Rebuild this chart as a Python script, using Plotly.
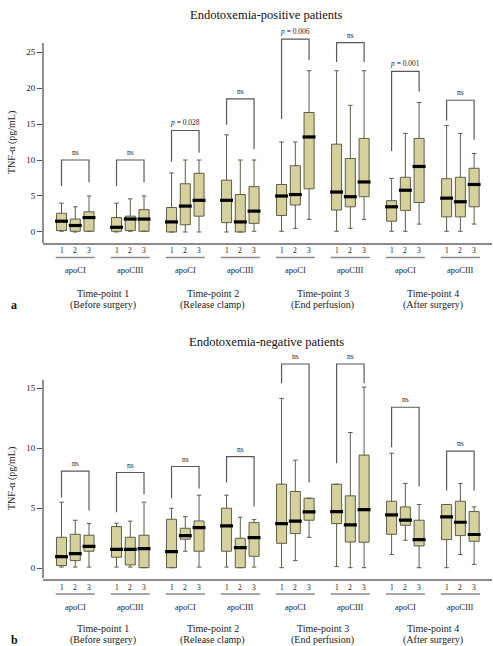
import plotly.graph_objects as go

W, H = 493, 646

# ---------------- data ----------------
timepoints = ["Time-point 1", "Time-point 2", "Time-point 3", "Time-point 4"]
tp_sub = ["(Before surgery)", "(Release clamp)", "(End perfusion)", "(After surgery)"]
apos = ["apoCI", "apoCIII"]
levels = ["1", "2", "3"]

# Endotoxemia-positive (8 groups x 3 boxes, order: TP1 apoCI, TP1 apoCIII, TP2 apoCI, ...)
pos_q1 = [[0.2, 0.1, 0.1], [0.1, 0.2, 0.1], [0.0, 1.0, 2.2], [1.3, 0.0, 1.2],
          [2.3, 3.75, 6.0], [3.05, 3.5, 4.9], [1.5, 3.0, 4.1], [2.1, 2.1, 3.5]]
pos_med = [[1.5, 0.9, 2.0], [0.65, 1.8, 1.8], [1.4, 3.6, 4.4], [4.4, 1.4, 2.9],
           [5.0, 5.2, 13.2], [5.55, 4.9, 6.95], [3.5, 5.8, 9.1], [4.7, 4.2, 6.6]]
pos_q3 = [[2.6, 1.8, 2.8], [2.0, 2.2, 3.1], [3.4, 6.7, 8.15], [7.2, 5.2, 6.3],
          [6.6, 9.2, 16.6], [12.2, 10.2, 13.0], [4.35, 7.6, 13.0], [7.4, 7.6, 8.85]]
pos_lo = [[0.1, 0.0, 0.1], [0.0, 0.1, 0.1], [0.0, 0.0, 0.0], [0.0, 0.0, 0.1],
          [0.1, 0.5, 1.75], [0.1, 0.5, 1.75], [0.1, 0.1, 1.1], [0.1, 0.1, 1.1]]
pos_hi = [[4.0, 3.5, 5.0], [4.0, 4.6, 5.0], [8.2, 10.0, 10.0], [13.5, 10.0, 10.0],
          [12.5, 12.5, 22.4], [22.4, 17.6, 22.4], [7.45, 13.7, 18.0], [14.8, 13.7, 10.9]]
pos_br_top = [10.0, 10.0, 14.1, 18.5, 26.8, 26.3, 22.3, 18.3]
pos_br_left = [6.4, 6.4, 9.8, 14.9, 15.7, 23.6, 11.25, 15.5]
pos_br_right = [6.9, 6.9, 11.0, 11.5, 23.9, 23.6, 19.5, 12.8]
pos_br_label = ["ns", "ns", "<i>p</i> = 0.028", "ns", "<i>p</i> = 0.006", "ns", "<i>p</i> = 0.001", "ns"]

# Endotoxemia-negative
neg_q1 = [[0.22, 0.64, 1.42], [0.92, 0.28, 0.05], [0.05, 2.42, 1.42], [1.42, 0.05, 1.0],
          [2.08, 2.89, 4.0], [3.72, 2.19, 2.17], [2.83, 3.58, 1.86], [2.39, 2.72, 2.25]]
neg_med = [[0.97, 1.22, 1.83], [1.58, 1.58, 1.64], [1.39, 2.72, 3.39], [3.53, 1.72, 2.56],
           [3.72, 3.92, 4.69], [4.72, 3.61, 4.89], [4.44, 4.0, 2.39], [4.28, 3.83, 2.81]]
neg_q3 = [[2.58, 2.83, 2.75], [3.47, 2.58, 2.75], [4.08, 3.33, 3.94], [5.0, 2.5, 3.8],
          [7.0, 6.39, 5.83], [7.0, 6.03, 9.42], [5.58, 5.11, 4.0], [5.31, 5.58, 4.72]]
neg_lo = [[0.1, 0.1, 0.1], [0.1, 0.1, 0.05], [0.05, 1.42, 0.1], [0.1, 0.05, 0.1],
          [0.05, 0.64, 2.58], [0.14, 0.05, 0.05], [1.14, 2.33, 0.05], [0.05, 1.14, 0.33]]
neg_hi = [[5.5, 4.0, 3.72], [3.75, 3.92, 5.5], [5.0, 4.3, 6.08], [6.08, 4.25, 4.05],
          [14.14, 9.0, 5.83], [7.0, 11.3, 15.08], [9.58, 7.06, 5.31], [5.31, 7.06, 5.11]]
neg_br_top = [8.08, 7.97, 8.47, 9.3, 17.0, 17.0, 13.4, 9.75]
neg_br_left = [5.9, 4.67, 5.8, 7.14, 15.4, 8.75, 10.08, 6.47]
neg_br_right = [4.8, 6.17, 6.64, 5.14, 7.14, 15.4, 6.8, 6.47]
neg_br_label = ["ns"] * 8

pos_yticks = [0, 5, 10, 15, 20, 25]
neg_yticks = [0, 5, 10, 15]

# ---------------- style ----------------
FONT = "Liberation Serif, Times New Roman, DejaVu Serif, serif"
FILL = "#d5d09c"
EDGE = "#5e5d48"
BRK = "#595959"
BOXW = 0.73
GSTEP = 4


def py(px):  # pixel row -> paper y
    return 1 - px / H


def px_(x):
    return x / W


def xpos(g, j):
    return g * GSTEP + j


fig = go.Figure()
annotations = []
shapes = []

panels = [
    dict(q1=pos_q1, med=pos_med, q3=pos_q3, lo=pos_lo, hi=pos_hi, bt=pos_br_top, bl=pos_br_left,
         brr=pos_br_right, lab=pos_br_label, xa="x", ya="y", yrange=[-1.53, 28.06],
         dom=[py(243), py(30)], axis_top=26.25, ticks=pos_yticks,
         title="Endotoxemia-positive patients", title_y=15, num_y=250, ul_y=257.5, apo_y=270,
         tp_y=293, sub_y=305, letter="a", ytitle_y=143),
    dict(q1=neg_q1, med=neg_med, q3=neg_q3, lo=neg_lo, hi=neg_hi, bt=neg_br_top, bl=neg_br_left,
         brr=neg_br_right, lab=neg_br_label, xa="x2", ya="y2", yrange=[-0.85, 18.0],
         dom=[py(578.5), py(352)], axis_top=15.7, ticks=neg_yticks,
         title="Endotoxemia-negative patients", title_y=342, num_y=587.5, ul_y=594, apo_y=606.5,
         tp_y=628, sub_y=640, letter="b", ytitle_y=479),
]

TXT = "#222"

for P in panels:
    xs, q1, med, q3, lo, hi = [], [], [], [], [], []
    for g in range(8):
        for j in range(3):
            xs.append(xpos(g, j))
            q1.append(P["q1"][g][j]); med.append(P["med"][g][j]); q3.append(P["q3"][g][j])
            lo.append(P["lo"][g][j]); hi.append(P["hi"][g][j])
    fig.add_trace(go.Box(x=xs, q1=q1, median=med, q3=q3, lowerfence=lo, upperfence=hi,
                         width=BOXW, whiskerwidth=0.45, fillcolor=FILL,
                         line=dict(color=EDGE, width=1), boxpoints=False,
                         xaxis=P["xa"], yaxis=P["ya"], showlegend=False, hoverinfo="skip"))
    # thick medians
    mx, my = [], []
    for x, m in zip(xs, med):
        mx += [x - 0.47, x + 0.47, None]
        my += [m, m, None]
    fig.add_trace(go.Scatter(x=mx, y=my, mode="lines", line=dict(color="black", width=3.2),
                             xaxis=P["xa"], yaxis=P["ya"], showlegend=False, hoverinfo="skip"))
    # brackets
    bx, byy = [], []
    for g in range(8):
        x0, x2 = xpos(g, 0), xpos(g, 2)
        bx += [x0, x0, x2, x2, None]
        byy += [P["bl"][g], P["bt"][g], P["bt"][g], P["brr"][g], None]
        annotations.append(dict(x=xpos(g, 1), y=P["bt"][g], xref=P["xa"], yref=P["ya"],
                                text=P["lab"][g], showarrow=False, yanchor="bottom", yshift=1,
                                font=dict(family=FONT, size=7.5, color=TXT)))
    fig.add_trace(go.Scatter(x=bx, y=byy, mode="lines", line=dict(color=BRK, width=1.2),
                             xaxis=P["xa"], yaxis=P["ya"], showlegend=False, hoverinfo="skip"))
    # y axis line (partial)
    shapes.append(dict(type="line", xref="paper", yref=P["ya"], x0=px_(43), x1=px_(43),
                       y0=P["yrange"][0], y1=P["axis_top"], line=dict(color="#555", width=1.3)))
    # category labels
    for g in range(8):
        for j in range(3):
            annotations.append(dict(x=xpos(g, j), y=py(P["num_y"]), xref=P["xa"], yref="paper",
                                    text=levels[j], showarrow=False, yanchor="middle",
                                    font=dict(family=FONT, size=7.5, color=TXT)))
        shapes.append(dict(type="line", xref=P["xa"], yref="paper", x0=xpos(g, 0) - 0.42,
                           x1=xpos(g, 2) + 0.42, y0=py(P["ul_y"]), y1=py(P["ul_y"]),
                           line=dict(color="#8a8a8a", width=1.5)))
        annotations.append(dict(x=xpos(g, 1), y=py(P["apo_y"]), xref=P["xa"], yref="paper",
                                text=apos[g % 2], showarrow=False, yanchor="middle",
                                font=dict(family=FONT, size=8.5, color=TXT)))
    for t in range(4):
        cx = (xpos(2 * t, 1) + xpos(2 * t + 1, 1)) / 2
        annotations.append(dict(x=cx, y=py(P["tp_y"]), xref=P["xa"], yref="paper",
                                text=timepoints[t], showarrow=False, yanchor="middle",
                                font=dict(family=FONT, size=10, color=TXT)))
        annotations.append(dict(x=cx, y=py(P["sub_y"]), xref=P["xa"], yref="paper",
                                text=tp_sub[t], showarrow=False, yanchor="middle",
                                font=dict(family=FONT, size=10, color=TXT)))
    annotations.append(dict(x=px_(266), y=py(P["title_y"]), xref="paper", yref="paper",
                            text=P["title"], showarrow=False, yanchor="middle",
                            font=dict(family=FONT, size=12.5, color="#111")))
    annotations.append(dict(x=px_(9), y=py(P["sub_y"]), xref="paper", yref="paper",
                            text="<b>" + P["letter"] + "</b>", showarrow=False, yanchor="middle",
                            font=dict(family=FONT, size=12, color="#111")))
    annotations.append(dict(x=px_(12), y=py(P["ytitle_y"]), xref="paper", yref="paper",
                            text="TNF-α (pg/mL)", showarrow=False, textangle=-90,
                            yanchor="middle", xanchor="center",
                            font=dict(family=FONT, size=10, color=TXT)))

xcommon = dict(domain=[px_(43), px_(492)], range=[-1.345, 31.3], showticklabels=False,
               ticks="", showgrid=False, zeroline=False, showline=True,
               linecolor="#8a8a8a", linewidth=1.6)
ycommon = dict(showgrid=False, zeroline=False, showline=False, ticks="outside", ticklen=5,
               tickcolor="#555", tickwidth=1, tickfont=dict(family=FONT, size=9, color=TXT))

fig.update_layout(
    width=W, height=H, autosize=False, margin=dict(l=0, r=0, t=0, b=0),
    paper_bgcolor="white", plot_bgcolor="white", boxmode="overlay",
    font=dict(family=FONT),
    xaxis=dict(**xcommon, anchor="y"),
    yaxis=dict(**ycommon, domain=panels[0]["dom"], range=panels[0]["yrange"],
               tickvals=pos_yticks, anchor="x"),
    xaxis2=dict(**xcommon, anchor="y2"),
    yaxis2=dict(**ycommon, domain=panels[1]["dom"], range=panels[1]["yrange"],
                tickvals=neg_yticks, anchor="x2"),
    annotations=annotations, shapes=shapes,
)

fig.write_html("out.html", config={"displayModeBar": False},
               post_script="document.body.style.margin='0';")
